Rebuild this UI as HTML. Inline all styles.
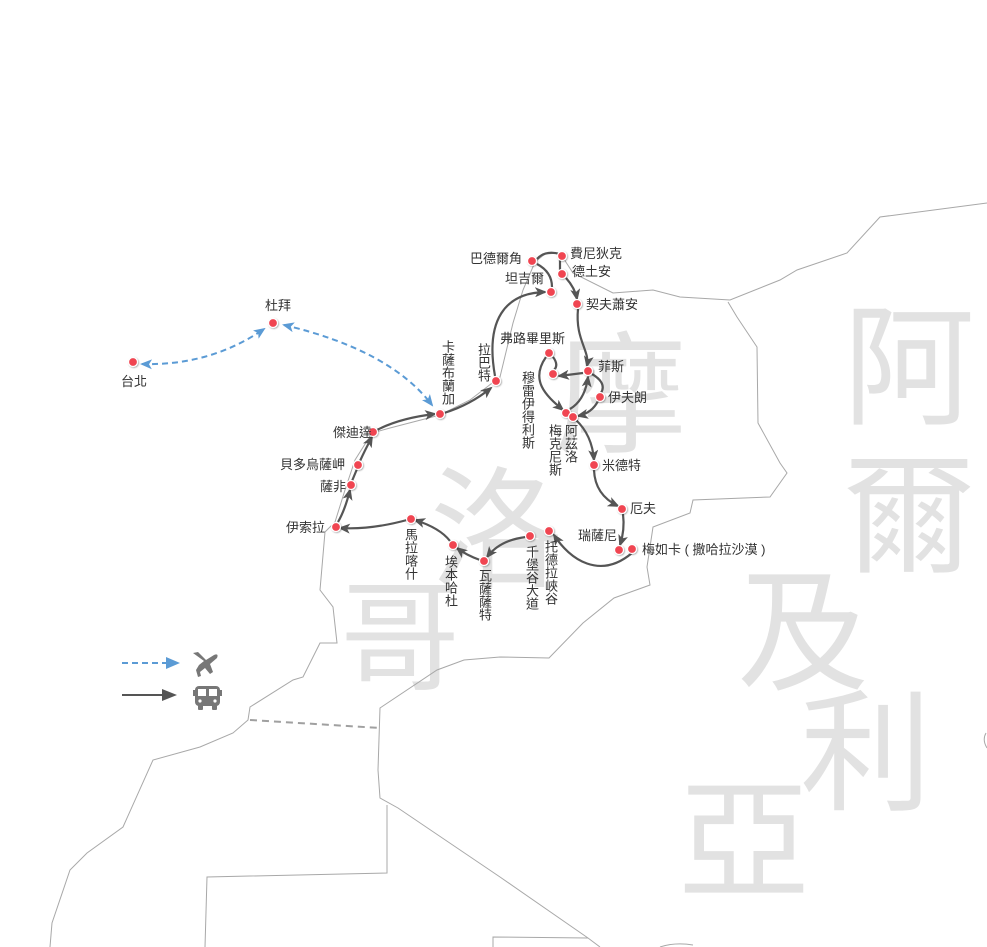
<!DOCTYPE html>
<html><head><meta charset="utf-8">
<style>
body{margin:0;background:#fff;}
#w{position:relative;width:987px;height:947px;overflow:hidden;background:#fff;font-family:"Liberation Sans","Noto Sans CJK TC",sans-serif;}
.bg{position:absolute;font-size:132px;line-height:132px;color:#e2e2e2;font-family:"Noto Sans CJK TC",sans-serif;}
.l{position:absolute;font-size:13px;line-height:15px;color:#333;white-space:nowrap;font-family:"Liberation Sans","Noto Sans CJK TC",sans-serif;}
.v{writing-mode:vertical-rl;letter-spacing:0px;line-height:14px;}
svg{position:absolute;left:0;top:0;}
</style></head><body><div id="w">
<div class="bg" style="left:555px;top:320px">摩</div>
<div class="bg" style="left:430px;top:455px">洛</div>
<div class="bg" style="left:340px;top:562px;font-size:120px">哥</div>
<div class="bg" style="left:843px;top:292px">阿</div>
<div class="bg" style="left:843px;top:440px">爾</div>
<div class="bg" style="left:737px;top:557px">及</div>
<div class="bg" style="left:800px;top:678px">利</div>
<div class="bg" style="left:678px;top:766px">亞</div>

<svg width="987" height="947" viewBox="0 0 987 947">
<defs>
<marker id="a" viewBox="0 0 12 10" refX="10" refY="5" markerWidth="12" markerHeight="10" markerUnits="userSpaceOnUse" orient="auto-start-reverse"><path d="M0,0 L12,5 L0,10 L3,5 z" fill="#555"/></marker>
<marker id="b" viewBox="0 0 12 10" refX="10" refY="5" markerWidth="12" markerHeight="10" markerUnits="userSpaceOnUse" orient="auto-start-reverse"><path d="M0,0 L12,5 L0,10 L3,5 z" fill="#5b9bd5"/></marker>
<filter id="sh"><feDropShadow dx="0.8" dy="0.8" stdDeviation="0.8" flood-color="#000" flood-opacity="0.35"/></filter>
</defs>
<g fill="none" stroke="#a8a8a8" stroke-width="1">
<path d="M987,203 L880,217 L847,253 L797,270 L780,280 L730,300 L680,297 L653,290 L613,293 L573,273 L560,253 L545,254 L535,262 L523,290 L513,323 L500,377 L470,400 L440,415 L390,428 L372,433 L355,460 L345,490 L335,522 L325,532 L320,590 L333,607 L337,643 L320,643 L303,677 L293,680 L250,707 L248,720 L233,733 L200,747 L153,760 L123,827 L87,853 L70,870 L52,923 L50,947"/>
<path d="M728,302 L737,317 L757,347 L758,423 L780,463 L787,473 L770,497 L693,500 L690,513 L653,527 L647,567 L650,585 L614,598 L583,623 L549,658 L500,657 L464,660 L437,670 L380,708 L378,770 L380,798 L398,808 L500,877 L588,938 L600,947"/>
<path d="M387,805 L387,873 L207,877 L205,947"/>
<path d="M493,947 L493,937 L588,938"/>
<path d="M660,947 Q675,942 693,945"/>
<path d="M986,733 Q982,740 987,748"/>
</g>
<path d="M250,720 L380,728" stroke="#a0a0a0" stroke-width="2" stroke-dasharray="7,5" fill="none"/>

<g fill="none" stroke="#5b9bd5" stroke-width="2" stroke-dasharray="6,4">
<path d="M142,364 Q210,366 264,329" marker-start="url(#b)" marker-end="url(#b)"/>
<path d="M284,325 Q390,350 432,405" marker-start="url(#b)" marker-end="url(#b)"/>
</g>
<g fill="none" stroke="#555" stroke-width="2.2">
<path d="M444,413 Q470,405 491,388" marker-end="url(#a)"/>
<path d="M495,376 C485,320 505,293 545,292" marker-end="url(#a)"/>
<path d="M537,264 Q552,272 552,287"/>
<path d="M537,259 Q545,250 560,254"/>
<path d="M560,259 L560,270"/>
<path d="M566,278 Q575,288 577,299" marker-end="url(#a)"/>
<path d="M578,309 C575,340 590,350 587,366" marker-end="url(#a)"/>
<path d="M583,373 L559,376" marker-end="url(#a)"/>
<path d="M553,357 Q559,365 554,370"/>
<path d="M546,357 C530,380 545,395 563,410" marker-end="url(#a)"/>
<path d="M570,409 Q585,400 588,377" marker-end="url(#a)"/>
<path d="M592,374 Q607,383 601,393"/>
<path d="M598,401 Q592,413 578,416" marker-end="url(#a)"/>
<path d="M576,420 Q592,435 594,460" marker-end="url(#a)"/>
<path d="M594,470 Q595,495 618,506" marker-end="url(#a)"/>
<path d="M623,514 Q625,530 620,545" marker-end="url(#a)"/>
<path d="M632,553 C600,580 570,560 554,535" marker-end="url(#a)"/>
<path d="M526,537 Q500,540 487,557" marker-end="url(#a)"/>
<path d="M480,560 Q466,555 457,548" marker-end="url(#a)"/>
<path d="M450,541 Q440,528 415,520" marker-end="url(#a)"/>
<path d="M407,520 Q370,530 340,528" marker-end="url(#a)"/>
<path d="M338,522 Q345,510 350,490" marker-end="url(#a)"/>
<path d="M352,481 L357,469"/>
<path d="M360,461 Q365,450 372,437" marker-end="url(#a)"/>
<path d="M377,430 Q400,418 435,414" marker-end="url(#a)"/>
</g>
<g fill="#f04451" stroke="#fff" stroke-width="1.2" filter="url(#sh)">
<circle cx="133" cy="362" r="4.5"/><circle cx="273" cy="323" r="4.5"/>
<circle cx="440" cy="414" r="4.5"/><circle cx="496" cy="381" r="4.5"/>
<circle cx="551" cy="292" r="4.5"/><circle cx="532" cy="261" r="4.5"/>
<circle cx="562" cy="256" r="4.5"/><circle cx="562" cy="274" r="4.5"/>
<circle cx="577" cy="304" r="4.5"/><circle cx="549" cy="353" r="4.5"/>
<circle cx="553" cy="374" r="4.5"/><circle cx="588" cy="371" r="4.5"/>
<circle cx="600" cy="397" r="4.5"/><circle cx="566" cy="413" r="4.5"/>
<circle cx="573" cy="417" r="4.5"/><circle cx="594" cy="465" r="4.5"/>
<circle cx="622" cy="509" r="4.5"/><circle cx="619" cy="550" r="4.5"/>
<circle cx="632" cy="549" r="4.5"/><circle cx="549" cy="531" r="4.5"/>
<circle cx="530" cy="536" r="4.5"/><circle cx="484" cy="561" r="4.5"/>
<circle cx="453" cy="545" r="4.5"/><circle cx="411" cy="519" r="4.5"/>
<circle cx="336" cy="527" r="4.5"/><circle cx="351" cy="485" r="4.5"/>
<circle cx="358" cy="465" r="4.5"/><circle cx="373" cy="432" r="4.5"/>
</g>
<path d="M122,663 L168,663" stroke="#5b9bd5" stroke-width="2" stroke-dasharray="6,4" fill="none"/>
<path d="M166,657 L180,663 L166,669 z" fill="#5b9bd5"/>
<path d="M122,695 L166,695" stroke="#555" stroke-width="2" fill="none"/>
<path d="M162,689 L177,695 L162,701 z" fill="#555"/>
<g fill="#777">
<path d="M193,653 L198,652 L206,660 L214,655 Q219,653 217,658 L210,664 L213,672 L210,674 L205,668 L200,672 L201,676 L198,677 L196,670 L199,665 L204,661 Z"/>
<rect x="195" y="686" width="25" height="20" rx="4"/>
<rect x="198" y="705" width="5" height="5" rx="1"/><rect x="212" y="705" width="5" height="5" rx="1"/>
<rect x="193" y="690" width="2" height="6"/><rect x="220" y="690" width="2" height="6"/>
</g>
<g fill="#fff">
<rect x="198" y="689" width="8" height="7"/><rect x="209" y="689" width="8" height="7"/>
<circle cx="200" cy="701" r="1.6"/><circle cx="215" cy="701" r="1.6"/>
</g>
</svg>

<div class="l" style="left:121px;top:374px">台北</div>
<div class="l" style="left:265px;top:298px">杜拜</div>
<div class="l v" style="left:440px;top:340px">卡薩布蘭加</div>
<div class="l v" style="left:476px;top:343px">拉巴特</div>
<div class="l" style="left:505px;top:271px">坦吉爾</div>
<div class="l" style="left:470px;top:251px">巴德爾角</div>
<div class="l" style="left:570px;top:246px">費尼狄克</div>
<div class="l" style="left:572px;top:264px">德土安</div>
<div class="l" style="left:586px;top:297px">契夫蕭安</div>
<div class="l" style="left:500px;top:331px">弗路畢里斯</div>
<div class="l v" style="left:520px;top:371px">穆雷伊得利斯</div>
<div class="l" style="left:598px;top:359px">菲斯</div>
<div class="l" style="left:608px;top:390px">伊夫朗</div>
<div class="l v" style="left:547px;top:424px">梅克尼斯</div>
<div class="l v" style="left:563px;top:424px">阿茲洛</div>
<div class="l" style="left:602px;top:458px">米德特</div>
<div class="l" style="left:630px;top:501px">厄夫</div>
<div class="l" style="left:578px;top:528px">瑞薩尼</div>
<div class="l" style="left:642px;top:542px">梅如卡 ( 撒哈拉沙漠 )</div>
<div class="l v" style="left:543px;top:540px">托德拉峽谷</div>
<div class="l v" style="left:524px;top:545px">千堡谷大道</div>
<div class="l v" style="left:477px;top:569px">瓦薩薩特</div>
<div class="l v" style="left:443px;top:555px">埃本哈杜</div>
<div class="l v" style="left:403px;top:528px">馬拉喀什</div>
<div class="l" style="left:286px;top:520px">伊索拉</div>
<div class="l" style="left:320px;top:479px">薩非</div>
<div class="l" style="left:280px;top:457px">貝多烏薩岬</div>
<div class="l" style="left:333px;top:425px">傑迪達</div>
</div></body></html>
